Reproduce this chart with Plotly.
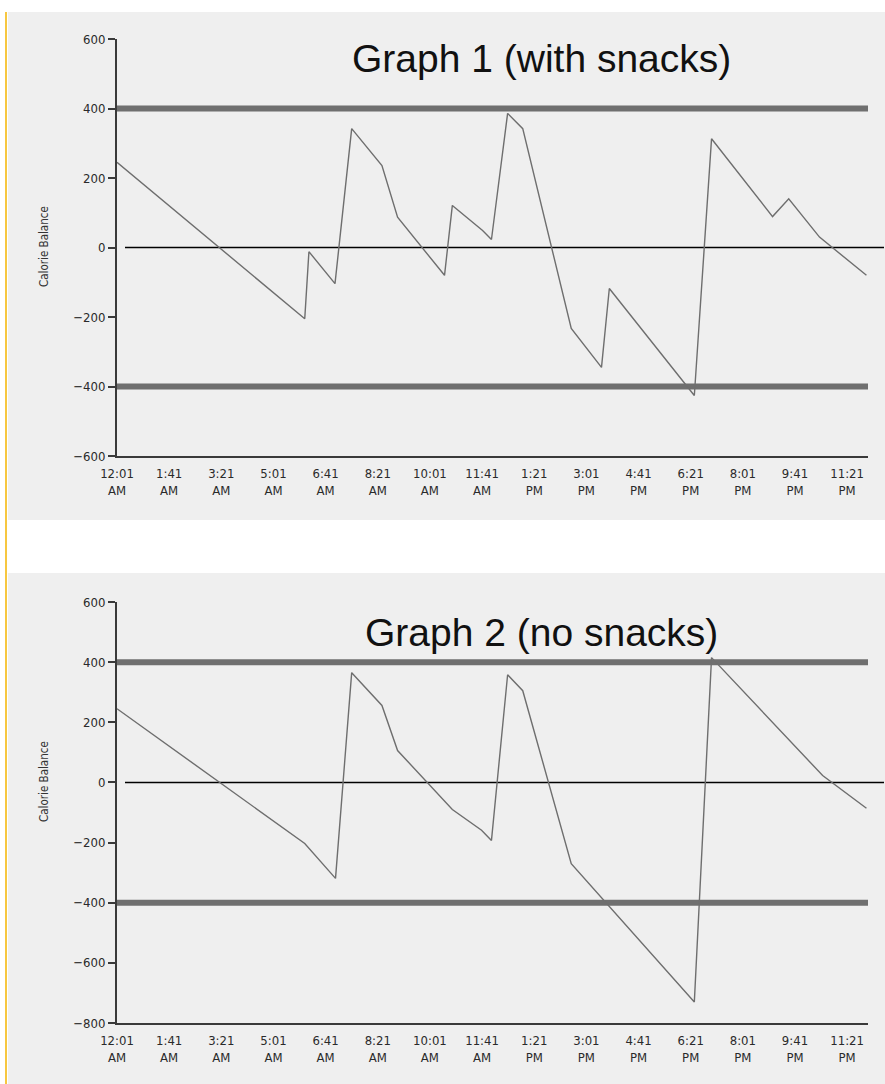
import plotly.graph_objects as go

# ---------------- data ----------------
tick_minutes = [1, 101, 201, 301, 401, 501, 601, 701, 801, 901, 1001, 1101, 1201, 1301, 1401]
tick_labels = ["12:01<br>AM", "1:41<br>AM", "3:21<br>AM", "5:01<br>AM", "6:41<br>AM",
               "8:21<br>AM", "10:01<br>AM", "11:41<br>AM", "1:21<br>PM", "3:01<br>PM",
               "4:41<br>PM", "6:21<br>PM", "8:01<br>PM", "9:41<br>PM", "11:21<br>PM"]

g1_minutes = [1, 361, 369, 419, 451, 509, 539, 629, 644, 702, 719, 750, 779, 872,
              930, 945, 1108, 1141, 1258, 1289, 1348, 1438]
g1_balance = [245, -205, -12, -104, 342, 236, 87, -80, 121, 49, 23, 386, 342, -233,
              -345, -118, -426, 313, 89, 140, 30, -80]

g2_minutes = [1, 361, 420, 451, 509, 539, 644, 700, 719, 750, 779, 872, 1108, 1141, 1354, 1438]
g2_balance = [245, -203, -319, 365, 256, 106, -90, -159, -193, 358, 305, -270, -730, 415, 23, -86]

limits = [400, -400]
titles = ["Graph 1 (with snacks)", "Graph 2 (no snacks)"]
y_ticks_1 = [-600, -400, -200, 0, 200, 400, 600]
y_ticks_2 = [-800, -600, -400, -200, 0, 200, 400, 600]

W, H = 885, 1084
def px(x):
    return x / W
def py(y):
    return 1 - y / H

PANEL = "#efefef"
LINE = "#6e6e6e"
BAND = "#6f6f6f"
AXIS = "#3a3a3a"
FONT = "Liberation Sans"
TICKFONT = "DejaVu Sans Condensed, Liberation Sans, sans-serif"

fig = go.Figure()
fig.add_trace(go.Scatter(x=g1_minutes, y=g1_balance, mode="lines",
                         line=dict(color=LINE, width=1.4), xaxis="x", yaxis="y",
                         showlegend=False, hoverinfo="skip"))
fig.add_trace(go.Scatter(x=g2_minutes, y=g2_balance, mode="lines",
                         line=dict(color=LINE, width=1.4), xaxis="x2", yaxis="y2",
                         showlegend=False, hoverinfo="skip"))

xdom = [px(117), px(868)]
common_x = dict(range=[1, 1441], tickmode="array", tickvals=tick_minutes, ticktext=tick_labels,
                showgrid=False, zeroline=False, showline=True, linecolor=AXIS, linewidth=2,
                ticks="", ticklabelstandoff=4, automargin=False,
                tickfont=dict(family=TICKFONT, size=13, color="#2a2a2a"), fixedrange=True)
common_y = dict(showgrid=False, zeroline=False, showline=True, linecolor=AXIS, linewidth=2,
                ticks="outside", ticklen=7, tickwidth=1.5, tickcolor=AXIS, automargin=False,
                tickfont=dict(family=TICKFONT, size=13, color="#2a2a2a"), fixedrange=True)

fig.update_layout(
    template="none",
    width=W, height=H, autosize=False,
    margin=dict(l=0, r=0, t=0, b=0, pad=0),
    paper_bgcolor="white",
    plot_bgcolor=PANEL,
    showlegend=False,
    xaxis=dict(domain=xdom, anchor="y", **common_x),
    yaxis=dict(domain=[py(456), py(39)], anchor="x", range=[-600, 600],
               tickvals=y_ticks_1, ticktext=[str(v).replace("-", "\u2212") for v in y_ticks_1],
               **common_y),
    xaxis2=dict(domain=xdom, anchor="y2", **common_x),
    yaxis2=dict(domain=[py(1023), py(602)], anchor="x2", range=[-800, 600],
                tickvals=y_ticks_2, ticktext=[str(v).replace("-", "\u2212") for v in y_ticks_2],
                **common_y),
)

shapes = []
shapes.append(dict(type="rect", xref="paper", yref="paper", x0=px(8), x1=1, y0=py(520), y1=py(12),
                   fillcolor=PANEL, line=dict(width=0), layer="below"))
shapes.append(dict(type="rect", xref="paper", yref="paper", x0=px(8), x1=1, y0=py(1084), y1=py(573),
                   fillcolor=PANEL, line=dict(width=0), layer="below"))
shapes.append(dict(type="line", xref="paper", yref="paper", x0=px(6), x1=px(6), y0=py(12), y1=0,
                   line=dict(color="#f5b400", width=1.5)))
for yref in ["y", "y2"]:
    shapes.append(dict(type="line", xref="paper", yref=yref, x0=px(125), x1=px(884), y0=0, y1=0,
                       line=dict(color="black", width=1.5), layer="below"))
    for lim in limits:
        shapes.append(dict(type="line", xref="x" if yref == "y" else "x2", yref=yref,
                           x0=1, x1=1441, y0=lim, y1=lim,
                           line=dict(color=BAND, width=6), layer="below"))
fig.update_layout(shapes=shapes)

annotations = [
    dict(text=titles[0], x=px(541), y=py(58), xref="paper", yref="paper", showarrow=False,
         font=dict(family=FONT, size=39, color="#111111"), xanchor="center", yanchor="middle"),
    dict(text=titles[1], x=px(541), y=py(632), xref="paper", yref="paper", showarrow=False,
         font=dict(family=FONT, size=39, color="#111111"), xanchor="center", yanchor="middle"),
    dict(text="Calorie Balance", x=px(44), y=py(247), xref="paper", yref="paper", showarrow=False,
         textangle=-90, font=dict(family=TICKFONT, size=11.5, color="#333333"),
         xanchor="center", yanchor="middle"),
    dict(text="Calorie Balance", x=px(44), y=py(782), xref="paper", yref="paper", showarrow=False,
         textangle=-90, font=dict(family=TICKFONT, size=11.5, color="#333333"),
         xanchor="center", yanchor="middle"),
]
fig.update_layout(annotations=annotations)

fig.write_html("out.html", config={"displayModeBar": False},
               post_script="document.body.style.margin='0';")
